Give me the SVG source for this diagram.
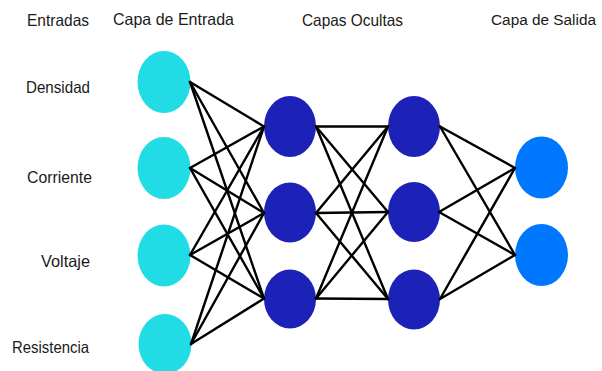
<svg xmlns="http://www.w3.org/2000/svg" width="602" height="371" viewBox="0 0 602 371">
<style>
text{font-family:"Liberation Sans",Arial,sans-serif;font-size:16.5px;fill:#1a1a1a}
.in{fill:#22DCE5}
.hid{fill:#1C21B8}
.out{fill:#0077FF}
.c line{stroke:#000;stroke-width:2.4;stroke-linecap:round}
</style>
<rect width="602" height="371" fill="#fff"/>
<g id="headers">
<text x="27" y="26" textLength="62" lengthAdjust="spacingAndGlyphs">Entradas</text>
<text x="113" y="25" textLength="121" lengthAdjust="spacingAndGlyphs">Capa de Entrada</text>
<text x="302" y="26" textLength="101" lengthAdjust="spacingAndGlyphs">Capas Ocultas</text>
<text x="491" y="25" style="font-size:15.4px" textLength="105" lengthAdjust="spacingAndGlyphs">Capa de Salida</text>
</g>
<g id="labels">
<text x="26" y="93" textLength="64" lengthAdjust="spacingAndGlyphs">Densidad</text>
<text x="27" y="183" textLength="65" lengthAdjust="spacingAndGlyphs">Corriente</text>
<text x="41" y="267" textLength="49" lengthAdjust="spacingAndGlyphs">Voltaje</text>
<text x="12" y="353" textLength="77" lengthAdjust="spacingAndGlyphs">Resistencia</text>
</g>
<g id="in1"><ellipse class="in" cx="164" cy="82" rx="26.5" ry="31"/></g>
<g id="in2"><ellipse class="in" cx="164" cy="168" rx="26.5" ry="31"/></g>
<g id="in3"><ellipse class="in" cx="164" cy="255.5" rx="26.5" ry="31"/></g>
<g id="in4"><ellipse class="in" cx="165" cy="344" rx="26.5" ry="30"/></g>
<g id="h1a"><ellipse class="hid" cx="290" cy="126.5" rx="26" ry="30.5"/></g>
<g id="h1b"><ellipse class="hid" cx="290" cy="212.5" rx="26" ry="30"/></g>
<g id="h1c"><ellipse class="hid" cx="290" cy="299" rx="26" ry="29.5"/></g>
<g id="h2a"><ellipse class="hid" cx="414" cy="126.5" rx="26" ry="30.5"/></g>
<g id="h2b"><ellipse class="hid" cx="414" cy="212" rx="26" ry="30"/></g>
<g id="h2c"><ellipse class="hid" cx="414" cy="299.5" rx="26" ry="30"/></g>
<g id="o1"><ellipse class="out" cx="541.5" cy="167.5" rx="26.5" ry="31"/></g>
<g id="o2"><ellipse class="out" cx="541.5" cy="255" rx="26.5" ry="31"/></g>
<g id="connectors" class="c">
<line x1="190" y1="82" x2="264" y2="126.5"/>
<line x1="190" y1="82" x2="264" y2="213"/>
<line x1="190" y1="82" x2="264" y2="298.5"/>
<line x1="190" y1="168" x2="264" y2="126.5"/>
<line x1="190" y1="168" x2="264" y2="213"/>
<line x1="190" y1="168" x2="264" y2="298.5"/>
<line x1="190" y1="255" x2="264" y2="126.5"/>
<line x1="190" y1="255" x2="264" y2="213"/>
<line x1="190" y1="255" x2="264" y2="298.5"/>
<line x1="191" y1="344" x2="264" y2="126.5"/>
<line x1="191" y1="344" x2="264" y2="213"/>
<line x1="191" y1="344" x2="264" y2="298.5"/>
<line x1="316" y1="126.5" x2="388" y2="126.5"/>
<line x1="316" y1="126.5" x2="388" y2="212"/>
<line x1="316" y1="126.5" x2="388" y2="299"/>
<line x1="316" y1="213" x2="388" y2="126.5"/>
<line x1="316" y1="213" x2="388" y2="212"/>
<line x1="316" y1="213" x2="388" y2="299"/>
<line x1="316" y1="298.5" x2="388" y2="126.5"/>
<line x1="316" y1="298.5" x2="388" y2="212"/>
<line x1="316" y1="298.5" x2="388" y2="299"/>
<line x1="440" y1="126.5" x2="515" y2="168"/>
<line x1="440" y1="126.5" x2="515" y2="255"/>
<line x1="439" y1="212" x2="515" y2="168"/>
<line x1="439" y1="212" x2="515" y2="255"/>
<line x1="440" y1="299" x2="515" y2="168"/>
<line x1="440" y1="299" x2="515" y2="255"/>
</g>
</svg>
